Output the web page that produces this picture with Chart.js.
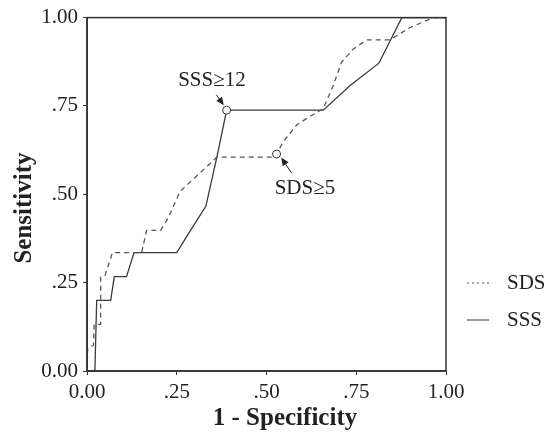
<!DOCTYPE html>
<html>
<head>
<meta charset="utf-8">
<script src="https://cdn.jsdelivr.net/npm/chart.js@4"></script>
<style>
  body { margin: 0; background: #fff; }
  #wrap { width: 555px; height: 437px; }
</style>
</head>
<body>
<div id="wrap"><canvas id="roc"></canvas></div>
<script>
// ROC curves
const sssFpr = [0, 0.022, 0.027, 0.066, 0.076, 0.11, 0.131, 0.25, 0.287, 0.331, 0.363, 0.389, 0.658, 0.733, 0.813, 0.877, 1];
const sssTpr = [0, 0, 0.2, 0.2, 0.267, 0.267, 0.335, 0.335, 0.396, 0.466, 0.611, 0.738, 0.738, 0.808, 0.871, 1, 1];
const sdsFpr = [0, 0.002, 0.018, 0.02, 0.038, 0.038, 0.05, 0.071, 0.152, 0.166, 0.205, 0.226, 0.259, 0.362, 0.522, 0.528, 0.547, 0.584, 0.62, 0.658, 0.686, 0.709, 0.742, 0.779, 0.844, 0.9, 0.965, 1];
const sdsTpr = [0, 0.064, 0.073, 0.132, 0.132, 0.265, 0.27, 0.335, 0.335, 0.398, 0.398, 0.433, 0.508, 0.605, 0.605, 0.614, 0.649, 0.696, 0.72, 0.742, 0.808, 0.874, 0.911, 0.937, 0.937, 0.972, 1, 1];
const sssCutIdx = 11; // SSS>=12
const sdsCutIdx = 15; // SDS>=5
const tickValues = [0, 0.25, 0.5, 0.75, 1];
const tickLabels = ["0.00", ".25", ".50", ".75", "1.00"];
const seriesNames = ["SDS", "SSS"];

const toPoints = (xs, ys) => xs.map((x, i) => ({ x: x, y: ys[i] }));
const fmtTick = (v) => {
  const i = tickValues.findIndex((t) => Math.abs(t - v) < 1e-6);
  return i >= 0 ? tickLabels[i] : "";
};

const serif = "'Liberation Serif', 'Times New Roman', serif";
const ink = "#333";

function arrow(ctx, x1, y1, x2, y2) {
  const a = Math.atan2(y2 - y1, x2 - x1);
  ctx.beginPath();
  ctx.moveTo(x1, y1);
  ctx.lineTo(x2 - 5 * Math.cos(a), y2 - 5 * Math.sin(a));
  ctx.stroke();
  ctx.beginPath();
  ctx.moveTo(x2, y2);
  ctx.lineTo(x2 - 8 * Math.cos(a) + 3.5 * Math.sin(a), y2 - 8 * Math.sin(a) - 3.5 * Math.cos(a));
  ctx.lineTo(x2 - 8 * Math.cos(a) - 3.5 * Math.sin(a), y2 - 8 * Math.sin(a) + 3.5 * Math.cos(a));
  ctx.closePath();
  ctx.fill();
}

// frame, axis titles, callouts and legend
const extras = {
  id: "extras",
  afterDraw(chart) {
    const ctx = chart.ctx;
    const a = chart.chartArea;
    const xs = chart.scales.x, ys = chart.scales.y;
    const px = (v) => xs.getPixelForValue(v);
    const py = (v) => ys.getPixelForValue(v);
    ctx.save();
    ctx.strokeStyle = ink;
    ctx.lineWidth = 1.5;
    ctx.strokeRect(a.left, a.top, a.right - a.left, a.bottom - a.top);

    ctx.fillStyle = "#222";
    ctx.font = "bold 25px " + serif;
    ctx.textAlign = "center";
    ctx.textBaseline = "middle";
    ctx.fillText("1 - Specificity", 285, 419);
    ctx.save();
    ctx.translate(25, 208);
    ctx.rotate(-Math.PI / 2);
    ctx.fillText("Sensitivity", 0, 0);
    ctx.restore();

    // callouts
    ctx.font = "21px " + serif;
    ctx.fillText("SSS\u226512", px(0.348), py(0.823));
    ctx.fillText("SDS\u22655", px(0.607), py(0.517));
    ctx.lineWidth = 1;
    ctx.strokeStyle = "#222";
    arrow(ctx, px(0.36), py(0.782), px(0.381), py(0.752));
    arrow(ctx, px(0.57), py(0.56), px(0.541), py(0.604));

    // legend
    ctx.textAlign = "left";
    ctx.strokeStyle = "#555";
    ctx.lineWidth = 1.2;
    const rows = [283, 320];
    rows.forEach((y, i) => {
      ctx.setLineDash(i === 0 ? [2, 3] : []);
      ctx.beginPath();
      ctx.moveTo(467, y);
      ctx.lineTo(489, y);
      ctx.stroke();
      ctx.fillText(seriesNames[i], 507, y);
    });
    ctx.restore();
  }
};

new Chart(document.getElementById("roc"), {
  type: "scatter",
  data: {
    datasets: [
      {
        label: "SDS",
        data: toPoints(sdsFpr, sdsTpr),
        showLine: true,
        borderColor: "#555",
        borderWidth: 1.3,
        borderDash: [5, 4],
        pointRadius: (c) => (c.dataIndex === sdsCutIdx ? 4 : 0),
        pointBackgroundColor: "#fff",
        pointBorderColor: ink,
        pointBorderWidth: 1,
        clip: false,
      },
      {
        label: "SSS",
        data: toPoints(sssFpr, sssTpr),
        showLine: true,
        borderColor: "#3a3a3a",
        borderWidth: 1.3,
        pointRadius: (c) => (c.dataIndex === sssCutIdx ? 4 : 0),
        pointBackgroundColor: "#fff",
        pointBorderColor: ink,
        pointBorderWidth: 1,
        clip: false,
      },
    ],
  },
  options: {
    responsive: true,
    maintainAspectRatio: false,
    animation: false,
    layout: { padding: { left: 0, top: 15, right: 109, bottom: 0 } },
    plugins: { legend: { display: false }, tooltip: { enabled: false } },
    scales: {
      x: {
        type: "linear",
        min: 0,
        max: 1,
        afterBuildTicks: (s) => { s.ticks = tickValues.map((v) => ({ value: v })); },
        afterFit: (s) => { s.height = 66; },
        ticks: { callback: fmtTick, color: "#222", font: { family: serif, size: 21 }, padding: 5, maxRotation: 0 },
        grid: { drawOnChartArea: false, tickLength: 4, color: ink },
        border: { color: "#555", width: 2 },
      },
      y: {
        type: "linear",
        min: 0,
        max: 1,
        afterBuildTicks: (s) => { s.ticks = tickValues.map((v) => ({ value: v })); },
        afterFit: (s) => { s.width = 87; },
        ticks: { callback: fmtTick, color: "#222", font: { family: serif, size: 21 }, padding: 5 },
        grid: { drawOnChartArea: false, tickLength: 4, color: ink },
        border: { color: "#555", width: 2 },
      },
    },
  },
  plugins: [extras],
});
</script>
</body>
</html>
